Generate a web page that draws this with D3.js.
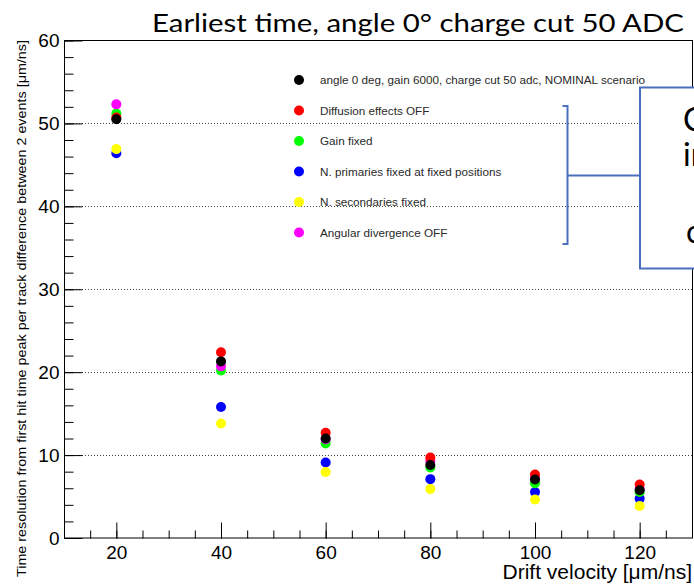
<!DOCTYPE html>
<html>
<head>
<meta charset="utf-8">
<script src="https://cdn.jsdelivr.net/npm/d3@7"></script>
<style>
  body { margin: 0; background: #fff; }
  svg { display: block; }
  .tick text { font-family: "Liberation Sans", Arial, sans-serif; }
</style>
</head>
<body>
<svg width="694" height="587"></svg>
<script>
var velocities = [20, 40, 60, 80, 100, 120];

var nominal     = [50.5, 21.3, 12.0, 8.8, 7.05, 5.75];
var diffOff     = [50.7, 22.4, 12.7, 9.7, 7.65, 6.45];
var gainFixed   = [51.2, 20.2, 11.4, 8.5, 6.6, 5.55];
var primFixed   = [46.4, 15.8, 9.1, 7.1, 5.55, 4.75];
var secFixed    = [46.9, 13.8, 7.95, 5.9, 4.65, 3.85];
var angularOff  = [52.3, 20.7, 11.9, 9.3, 7.2, 5.9];

var legendLabels = [
  'angle 0 deg, gain 6000, charge cut 50 adc, NOMINAL scenario',
  'Diffusion effects OFF',
  'Gain fixed',
  'N. primaries fixed at fixed positions',
  'N. secondaries fixed',
  'Angular divergence OFF'
];
var legendColors = ['#000000', '#ff0000', '#00ff00', '#0000ff', '#ffff00', '#ff00ff'];
var seriesValues = [nominal, diffOff, gainFixed, primFixed, secFixed, angularOff];

var xMajor = [20, 40, 60, 80, 100, 120];
var yMajor = [0, 10, 20, 30, 40, 50, 60];
var gridValues = [10, 20, 30, 40, 50];

var svg = d3.select('svg');

var x = d3.scaleLinear().domain([10, 130]).range([64, 692]);
var y = d3.scaleLinear().domain([0, 60]).range([538, 40.5]);

// dotted horizontal grid
svg.append('g').selectAll('line')
  .data(gridValues)
  .enter().append('line')
  .attr('x1', x(10)).attr('x2', x(130))
  .attr('y1', function(d) { return Math.round(y(d)) + 0.5; })
  .attr('y2', function(d) { return Math.round(y(d)) + 0.5; })
  .attr('stroke', '#444')
  .attr('stroke-width', 1)
  .attr('stroke-dasharray', '1,2');

// frame
svg.append('rect')
  .attr('x', x(10) + 0.5).attr('y', y(60))
  .attr('width', x(130) - x(10)).attr('height', y(0) - y(60))
  .attr('fill', 'none').attr('stroke', '#000');

// y axis: major + minor ticks pointing inside
var yAxis = svg.append('g')
  .attr('transform', 'translate(' + (x(10) + 0.5) + ',0)')
  .call(d3.axisLeft(y).tickValues(yMajor).tickSize(-18).tickSizeOuter(0).tickPadding(5));
yAxis.selectAll('text').style('font-size', '19px').attr('fill', '#000');
yAxis.select('.domain').remove();

svg.append('g')
  .attr('transform', 'translate(' + (x(10) + 0.5) + ',0)')
  .call(d3.axisLeft(y).tickValues(d3.range(0, 61, 2)).tickSize(-9).tickFormat(''))
  .select('.domain').remove();

// x axis
var xAxis = svg.append('g')
  .attr('transform', 'translate(0,' + (y(0) + 0.5) + ')')
  .call(d3.axisBottom(x).tickValues(xMajor).tickSize(-16).tickSizeOuter(0).tickPadding(7));
xAxis.selectAll('text').style('font-size', '19px').attr('fill', '#000');
xAxis.select('.domain').remove();

svg.append('g')
  .attr('transform', 'translate(0,' + (y(0) + 0.5) + ')')
  .call(d3.axisBottom(x).tickValues(d3.range(15, 130, 5)).tickSize(-8).tickFormat(''))
  .select('.domain').remove();

// axis titles
svg.append('text')
  .attr('x', 692).attr('y', 579)
  .attr('text-anchor', 'end')
  .style('font-family', '"Liberation Sans", Arial, sans-serif')
  .style('font-size', '21px')
  .text('Drift velocity [\u03bcm/ns]');

svg.append('text')
  .attr('transform', 'translate(26,40) rotate(-90)')
  .attr('text-anchor', 'end')
  .attr('textLength', 537)
  .attr('lengthAdjust', 'spacingAndGlyphs')
  .style('font-family', '"Liberation Sans", Arial, sans-serif')
  .style('font-size', '12.5px')
  .text('Time resolution from first hit time peak per track difference between 2 events [\u03bcm/ns]');

// title
svg.append('text')
  .attr('x', 152).attr('y', 32)
  .attr('textLength', 532)
  .attr('lengthAdjust', 'spacingAndGlyphs')
  .style('font-family', 'Lato, "Open Sans", sans-serif')
  .style('font-size', '25px')
  .text('Earliest time,  angle 0\u00b0 charge cut 50 ADC');

// points, drawn in the stacking order seen in the plot
var drawOrder = [3, 4, 2, 5, 1, 0];
drawOrder.forEach(function(s) {
  svg.append('g').selectAll('circle')
    .data(seriesValues[s])
    .enter().append('circle')
    .attr('cx', function(d, i) { return x(velocities[i]); })
    .attr('cy', function(d) { return y(d); })
    .attr('r', 5)
    .attr('fill', legendColors[s]);
});

// legend
var legendY = d3.scaleLinear().domain([0, 5]).range([80, 232.5]);
var legend = svg.append('g').selectAll('g')
  .data(legendLabels)
  .enter().append('g')
  .attr('transform', function(d, i) { return 'translate(299,' + legendY(i) + ')'; });
legend.append('circle')
  .attr('r', 5)
  .attr('fill', function(d, i) { return legendColors[i]; });
legend.append('text')
  .attr('x', 21).attr('y', 4)
  .style('font-family', '"Liberation Sans", Arial, sans-serif')
  .style('font-size', '11.7px')
  .attr('fill', '#2a2a2a')
  .text(function(d) { return d; });

// callout bracket and box (slide annotation)
var calloutColor = '#4a6fbd';
svg.append('path')
  .attr('d', 'M562.5,106 H567.5 V244 H562.5 M567.5,175.5 H640')
  .attr('fill', 'none')
  .attr('stroke', calloutColor)
  .attr('stroke-width', 2);

svg.append('rect')
  .attr('x', 640).attr('y', 87.5)
  .attr('width', 80).attr('height', 181)
  .attr('fill', '#fff')
  .attr('stroke', calloutColor)
  .attr('stroke-width', 2);

var boxLines = [['C', 683, 131], ['in', 683, 166], ['c', 686, 243]];
svg.append('g').selectAll('text')
  .data(boxLines)
  .enter().append('text')
  .attr('x', function(d) { return d[1]; })
  .attr('y', function(d) { return d[2]; })
  .style('font-family', 'Lato, "Open Sans", sans-serif')
  .style('font-size', '32px')
  .text(function(d) { return d[0]; });
</script>
</body>
</html>
